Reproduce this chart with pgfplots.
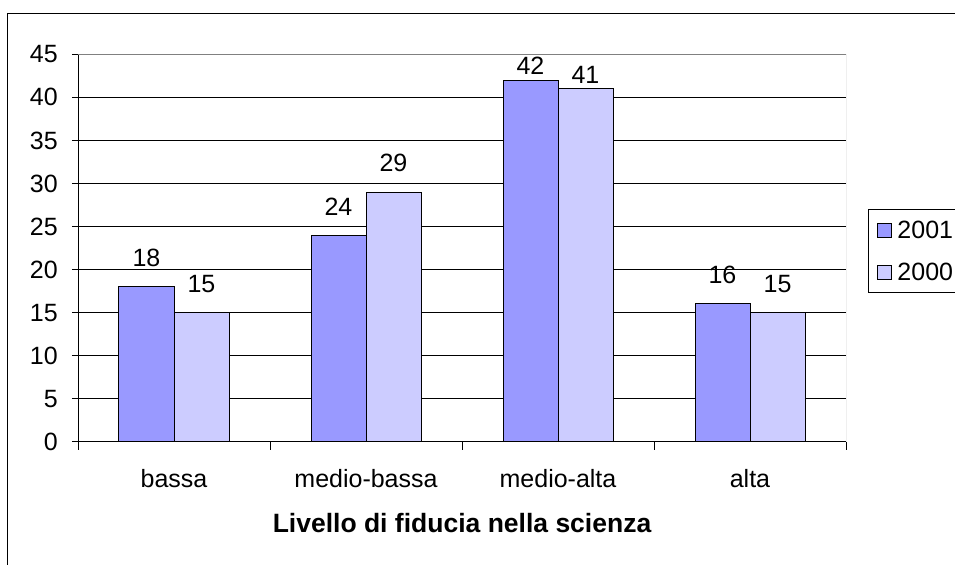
\documentclass[border=0pt]{standalone}
\usepackage{fontspec}
\setmainfont{Liberation Sans}
\usepackage{pgfplots}
\pgfplotsset{compat=1.18}
\definecolor{c2001}{HTML}{9999FF}
\definecolor{c2000}{HTML}{CCCCFF}
\definecolor{frameg}{HTML}{808080}
\begin{document}
\begin{tikzpicture}
\begin{axis}[
  at={(78bp,-441.7bp)}, anchor=south west,
  scale only axis, width=768bp, height=387.4bp,
  xmin=-0.5, xmax=3.5, ymin=0, ymax=45,
  ybar=0pt, bar width=55bp,
  axis x line*=bottom, axis y line*=left,
  axis line style={-, black, line width=1bp},
  xtick={0,1,2,3}, xticklabels={bassa,medio-bassa,medio-alta,alta},
  minor xtick={-0.5,0.5,1.5,2.5,3.5},
  major x tick style={draw=none},
  ytick={0,5,...,45},
  tick align=outside,
  major tick length=6bp, minor tick length=8bp,
  tick style={black, line width=1bp},
  ymajorgrids, major grid style={black, line width=1bp},
  /pgf/number format/assume math mode=true,
  tick label style={font=\fontsize{25bp}{29bp}\selectfont},
  yticklabel style={anchor=east, inner sep=0pt, xshift=-14bp},
  xticklabel style={anchor=base, inner sep=0pt, yshift=-40bp},
  xlabel={\bfseries Livello di fiducia nella scienza},
  xlabel style={at={(axis description cs:0.5,0)}, anchor=base, inner sep=0pt, yshift=-91bp, font=\fontsize{26.5bp}{30bp}\selectfont},
  visualization depends on={ifthenelse(y>40,5,19.5) \as \labshift},
  nodes near coords,
  nodes near coords style={inner sep=0pt, yshift=\labshift bp, font=\fontsize{25bp}{29bp}\selectfont, black},
  legend image code/.code={\draw[#1, draw=black, line width=1bp] (0bp,-7bp) rectangle (14bp,7bp);},
  legend style={at={(rel axis cs:1.0286,0.600)}, anchor=north west, draw=black, line width=1bp,
    font=\fontsize{25bp}{29bp}\selectfont, inner xsep=9bp, inner ysep=11bp, row sep=23bp,
    nodes={inner xsep=5bp, inner ysep=0pt},
    legend cell align=left},
]
\addplot[fill=c2001, draw=black, line width=1bp] coordinates {(0,18) (1,24) (2,42) (3,16)};
\addplot[fill=c2000, draw=black, line width=1bp] coordinates {(0,15) (1,29) (2,41) (3,15)};
\legend{2001\hspace{12bp},2000\hspace{12bp}}
\draw[frameg, line width=1bp] (rel axis cs:0,1) -- (rel axis cs:1,1) -- (rel axis cs:1,0);
\end{axis}
\draw[black, line width=1bp] (7.5bp,-13.3bp) rectangle (1000bp,-600bp);
\pgfresetboundingbox
\path[use as bounding box] (0,0) rectangle (955bp,-565bp);
\end{tikzpicture}
\end{document}
